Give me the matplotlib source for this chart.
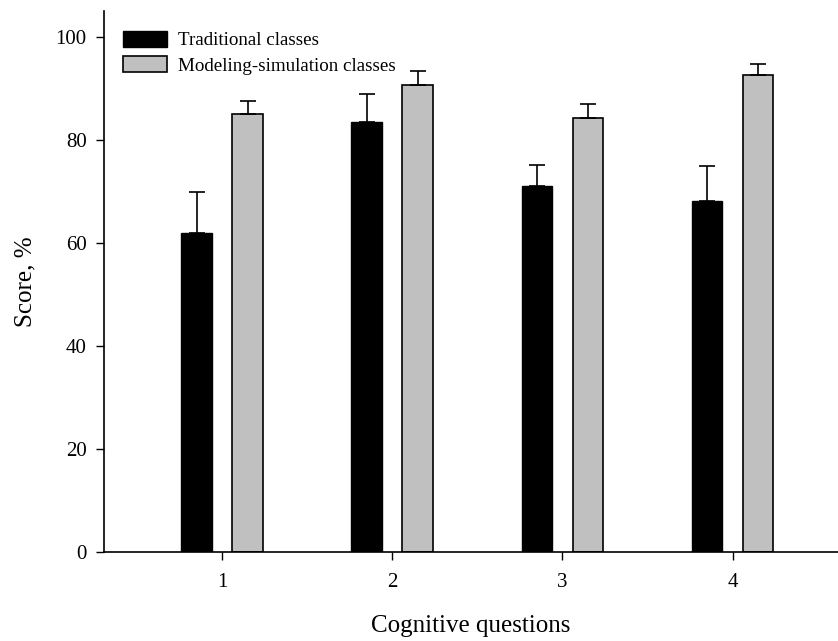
import numpy as np
import matplotlib
matplotlib.use("Agg")
import matplotlib.pyplot as plt

plt.rcParams.update({
    "font.family": "Liberation Serif",
    "axes.spines.top": False,
    "axes.spines.right": False,
})

# ── Data ──────────────────────────────────────────────────────────────────────
questions = [1, 2, 3, 4]
traditional = [61.9, 83.4, 71.1, 68.2]
traditional_err = [7.9, 5.4, 4.0, 6.7]
modeling = [85.0, 90.7, 84.3, 92.6]
modeling_err = [2.6, 2.6, 2.6, 2.0]

# ── Plot ──────────────────────────────────────────────────────────────────────
fig = plt.figure(figsize=(8.38, 6.41), dpi=100)
ax = fig.add_axes([0.124, 0.139, 0.876, 0.844])

x = np.array(questions, dtype=float)
w = 0.18
ax.bar(x - 0.15, traditional, w, color="black", edgecolor="black", linewidth=1,
       yerr=[np.zeros(4), traditional_err], capsize=6,
       error_kw={"elinewidth": 1.2, "capthick": 1.2, "ecolor": "black"},
       label="Traditional classes")
ax.bar(x + 0.15, modeling, w, color="#C0C0C0", edgecolor="black", linewidth=1.2,
       yerr=[np.zeros(4), modeling_err], capsize=6,
       error_kw={"elinewidth": 1.2, "capthick": 1.2, "ecolor": "black"},
       label="Modeling-simulation classes")

ax.set_xlim(0.305, 4.62)
ax.set_ylim(0, 105)
ax.set_xticks(questions)
ax.set_yticks([0, 20, 40, 60, 80, 100])
ax.tick_params(axis="both", direction="out", length=5.5, width=1, labelsize=15)
ax.tick_params(axis="y", pad=7)
ax.tick_params(axis="x", pad=10)
for s in ["left", "bottom"]:
    ax.spines[s].set_linewidth(1.2)

ax.set_xlabel("Cognitive questions", fontsize=18, labelpad=16)
ax.set_ylabel("Score, %", fontsize=18, labelpad=14)

ax.legend(loc="upper left", frameon=False, fontsize=13.7,
          handlelength=2.3, handleheight=0.9, handletextpad=0.58,
          labelspacing=0.35, borderaxespad=0, bbox_to_anchor=(0.016, 0.977))

fig.savefig("out.png", dpi=100)
